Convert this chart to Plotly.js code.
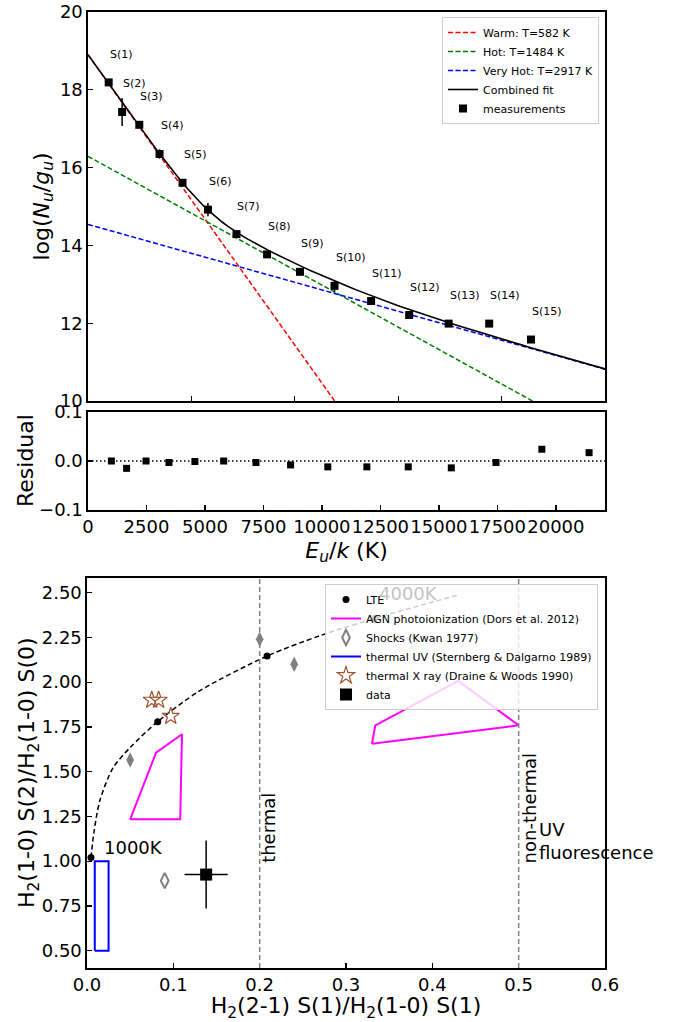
<!DOCTYPE html>
<html>
<head>
<meta charset="utf-8">
<script src="https://cdn.plot.ly/plotly-3.0.1.min.js"></script>
<style>html,body{margin:0;padding:0;background:#fff;}#chart{width:680px;height:1022px;}</style>
</head>
<body>
<div id="chart"></div>
<script>
// ---------- Panel 1: excitation diagram ----------
const lineLabels = ['S(1)','S(2)','S(3)','S(4)','S(5)','S(6)','S(7)','S(8)','S(9)','S(10)','S(11)','S(12)','S(13)','S(14)','S(15)'];
const E_u = [1000, 1650, 2480, 3460, 4570, 5800, 7180, 8660, 10250, 11920, 13690, 15530, 17440, 19400, 21420];
const logNg = [18.19, 17.43, 17.10, 16.35, 15.61, 14.92, 14.29, 13.77, 13.32, 12.96, 12.57, 12.21, 11.99, 11.99, 11.58];
const logNgErr = [0.04, 0.36, 0.04, 0.12, 0.04, 0.17, 0.04, 0.04, 0.04, 0.15, 0.04, 0.04, 0.04, 0.04, 0.04];
const fitNames = ['Warm: T=582 K', 'Hot: T=1484 K', 'Very Hot: T=2917 K'];
const fitTemps = [582, 1484, 2917];
const fitIntercepts = [18.9, 16.29, 14.54];
const fitERange = [0, 25000];
// ---------- Panel 2: residuals ----------
const residual = [0.0, -0.015, 0.0, -0.003, -0.001, 0.0, -0.003, -0.008, -0.012, -0.012, -0.012, -0.014, -0.003, 0.024, 0.017];
// ---------- Panel 3: line-ratio diagram ----------
const lteCurveX = [0.0046, 0.008, 0.015, 0.03, 0.05, 0.082, 0.13, 0.2086, 0.27, 0.3337, 0.43];
const lteCurveY = [1.02, 1.16, 1.34, 1.52, 1.635, 1.78, 1.95, 2.146, 2.26, 2.357, 2.487];
const lteX = [0.0046, 0.0819, 0.2086, 0.3337];
const lteY = [1.02, 1.779, 2.146, 2.357];
const agnX = [0.05, 0.08, 0.11, 0.108, 0.05, null, 0.33, 0.334, 0.43, 0.5, 0.33];
const agnY = [1.234, 1.606, 1.709, 1.234, 1.234, null, 1.656, 1.759, 2.007, 1.759, 1.656];
const shockFilledX = [0.05, 0.2, 0.24];
const shockFilledY = [1.565, 2.24, 2.10];
const shockOpenX = [0.09];
const shockOpenY = [0.891];
const uvX = [0.009, 0.025, 0.025, 0.009, 0.009];
const uvY = [0.5, 0.5, 1.0, 1.0, 0.5];
const xrayX = [0.075, 0.083, 0.097];
const xrayY = [1.90, 1.90, 1.81];
const dataX = [0.138];
const dataY = [0.925];
const dataXErr = [0.025];
const dataYErr = [0.19];
const regimeX = [0.2, 0.5];

const FONT = 'DejaVu Sans';
const LN10 = Math.log(10);
function comp(i, E) { return fitIntercepts[i] - E / (fitTemps[i] * LN10); }

const traces = [];
const fitColors = ['#ff0000', '#008000', '#0000ff'];
for (let i = 0; i < fitTemps.length; i++) {
  traces.push({x: fitERange, y: fitERange.map(E => comp(i, E)), xaxis: 'x', yaxis: 'y', mode: 'lines',
    name: fitNames[i], line: {color: fitColors[i], width: 1.5, dash: '5px,2.5px'}, legend: 'legend'});
}
const combE = [], combY = [];
for (let E = fitERange[0]; E <= fitERange[1]; E += 250) {
  let s = 0;
  for (let i = 0; i < fitTemps.length; i++) s += Math.pow(10, comp(i, E));
  combE.push(E); combY.push(Math.log10(s));
}
traces.push({x: combE, y: combY, xaxis: 'x', yaxis: 'y', mode: 'lines', name: 'Combined fit',
  line: {color: '#000', width: 1.6}, legend: 'legend'});
traces.push({x: E_u, y: logNg, xaxis: 'x', yaxis: 'y', mode: 'markers', name: 'measurements',
  marker: {symbol: 'square', size: 8, color: '#000'},
  error_y: {type: 'data', array: logNgErr, visible: true, color: '#000', thickness: 1.5, width: 0}, legend: 'legend'});

// residuals
traces.push({x: E_u, y: residual, xaxis: 'x2', yaxis: 'y2', mode: 'markers', showlegend: false,
  marker: {symbol: 'square', size: 7, color: '#000'}});

// panel 3
traces.push({x: lteCurveX, y: lteCurveY, xaxis: 'x3', yaxis: 'y3', mode: 'lines', showlegend: false,
  line: {color: '#000', width: 1.5, dash: '5px,3px', shape: 'spline', smoothing: 0.8}});
traces.push({x: lteX, y: lteY, xaxis: 'x3', yaxis: 'y3', mode: 'markers', name: 'LTE',
  marker: {symbol: 'circle', size: 7, color: '#000'}, legend: 'legend2'});
traces.push({x: agnX, y: agnY, xaxis: 'x3', yaxis: 'y3', mode: 'lines', name: 'AGN photoionization (Dors et al. 2012)',
  connectgaps: false, line: {color: '#ff00ff', width: 2}, legend: 'legend2'});
traces.push({x: shockFilledX, y: shockFilledY, xaxis: 'x3', yaxis: 'y3', mode: 'markers', showlegend: false,
  marker: {symbol: 'diamond-tall', size: 11, color: '#808080'}});
traces.push({x: shockOpenX, y: shockOpenY, xaxis: 'x3', yaxis: 'y3', mode: 'markers', name: 'Shocks (Kwan 1977)',
  marker: {symbol: 'diamond-tall-open', size: 11, color: '#808080', line: {width: 2}}, legend: 'legend2'});
traces.push({x: uvX, y: uvY, xaxis: 'x3', yaxis: 'y3', mode: 'lines', name: 'thermal UV (Sternberg & Dalgarno 1989)',
  line: {color: '#0000ff', width: 2}, legend: 'legend2'});
traces.push({x: xrayX, y: xrayY, xaxis: 'x3', yaxis: 'y3', mode: 'markers', name: 'thermal X ray (Draine & Woods 1990)',
  marker: {symbol: 'star-open', size: 13, color: '#a0522d', line: {width: 1.2}}, legend: 'legend2'});
traces.push({x: dataX, y: dataY, xaxis: 'x3', yaxis: 'y3', mode: 'markers', name: 'data',
  marker: {symbol: 'square', size: 12, color: '#000'},
  error_x: {type: 'data', array: dataXErr, visible: true, color: '#000', thickness: 1.5, width: 0},
  error_y: {type: 'data', array: dataYErr, visible: true, color: '#000', thickness: 1.5, width: 0}, legend: 'legend2'});

const W = 680, H = 1022;
function dx(a, b) { return [a / W, b / W]; }
function dy(top, bottom) { return [(H - bottom) / H, (H - top) / H]; }

const axBase = {showline: true, mirror: true, linecolor: '#000', linewidth: 1.6, ticks: 'inside', ticklen: 5,
  tickwidth: 1.3, tickcolor: '#000', showgrid: false, zeroline: false, tickfont: {family: FONT, size: 18, color: '#000'}};

const annotations = lineLabels.map((t, i) => ({x: E_u[i], y: logNg[i], xref: 'x', yref: 'y', text: t, showarrow: false,
  xanchor: 'left', yanchor: 'middle', yshift: 28, xshift: -1, font: {family: FONT, size: 11, color: '#000'}}));
annotations.push({x: 0.017, y: 1.074, xref: 'x3', yref: 'y3', text: '1000K', showarrow: false, xanchor: 'left', yanchor: 'middle',
  font: {family: FONT, size: 18, color: '#000'}});
annotations.push({x: 0.3356, y: 2.498, xref: 'x3', yref: 'y3', text: '4000K', showarrow: false, xanchor: 'left', yanchor: 'middle',
  font: {family: FONT, size: 18, color: '#c4c4c4'}});
annotations.push({x: 0.2094, y: 0.978, xref: 'x3', yref: 'y3', text: 'thermal', showarrow: false, textangle: -90,
  xanchor: 'center', yanchor: 'bottom', font: {family: FONT, size: 18, color: '#000'}});
annotations.push({x: 0.5129, y: 0.978, xref: 'x3', yref: 'y3', text: 'non-thermal', showarrow: false, textangle: -90,
  xanchor: 'center', yanchor: 'bottom', font: {family: FONT, size: 18, color: '#000'}});
annotations.push({x: 0.521, y: 0.98, xref: 'x3', yref: 'y3', text: 'UV<br>fluorescence', showarrow: false, align: 'left',
  xanchor: 'left', yanchor: 'bottom', font: {family: FONT, size: 18, color: '#000'}});
// y-axis titles placed as rotated annotations for exact positioning
const yTitles = [
  {text: 'log(<i>N</i><sub><i>u</i></sub>/<i>g</i><sub><i>u</i></sub>)', px: 43, top: 12, bottom: 401},
  {text: 'Residual', px: 26, top: 412, bottom: 510},
  {text: 'H<sub>2</sub>(1-0) S(2)/H<sub>2</sub>(1-0) S(0)', px: 28, top: 578, bottom: 968}
];
yTitles.forEach(t => annotations.push({x: t.px / W, y: (H - (t.top + t.bottom) / 2) / H, xref: 'paper', yref: 'paper',
  text: t.text, showarrow: false, textangle: -90, xanchor: 'center', yanchor: 'middle',
  font: {family: FONT, size: 22, color: '#000'}}));

const shapes = regimeX.map(v => ({type: 'line', xref: 'x3', yref: 'y3 domain', x0: v, x1: v, y0: 0, y1: 1,
  line: {color: '#808080', width: 1.5, dash: '5px,3px'}}));
shapes.push({type: 'line', xref: 'x2 domain', yref: 'y2', x0: 0, x1: 1, y0: 0, y1: 0,
  line: {color: '#000', width: 1.5, dash: '1.5px,2.5px'}});

const legendBase = {bgcolor: 'rgba(255,255,255,0.8)', bordercolor: '#cccccc', borderwidth: 1,
  font: {family: FONT, size: 11, color: '#000'}, tracegroupgap: 0, itemwidth: 30};

const layout = {
  width: W, height: H, margin: {l: 0, r: 0, t: 0, b: 0}, paper_bgcolor: '#fff', plot_bgcolor: '#fff',
  font: {family: FONT, color: '#000'},
  xaxis: Object.assign({}, axBase, {domain: dx(88, 605), anchor: 'y', range: [0, 25000], tickvals: [0, 5000, 10000, 15000, 20000, 25000], showticklabels: false}),
  yaxis: Object.assign({}, axBase, {domain: dy(12, 401), anchor: 'x', range: [10, 20], tickvals: [10, 12, 14, 16, 18, 20]}),
  xaxis2: Object.assign({}, axBase, {domain: dx(88, 605), anchor: 'y2', range: [0, 22100], tick0: 0, dtick: 2500, tickangle: 0,
    tickformat: 'd',
    title: {text: '<i>E</i><sub><i>u</i></sub>/<i>k</i> (K)', font: {family: FONT, size: 22, color: '#000'}, standoff: 6}}),
  yaxis2: Object.assign({}, axBase, {domain: dy(412, 510), anchor: 'x2', range: [-0.1, 0.1], tickvals: [-0.1, 0, 0.1],
    ticktext: ['\u22120.1', '0.0', '0.1']}),
  xaxis3: Object.assign({}, axBase, {domain: dx(87, 605), anchor: 'y3', range: [0, 0.6], tickvals: [0, 0.1, 0.2, 0.3, 0.4, 0.5, 0.6],
    tickformat: '.1f', tickangle: 0,
    title: {text: 'H<sub>2</sub>(2-1) S(1)/H<sub>2</sub>(1-0) S(1)', font: {family: FONT, size: 22, color: '#000'}, standoff: 6}}),
  yaxis3: Object.assign({}, axBase, {domain: dy(578, 968), anchor: 'x3', range: [0.403, 2.582],
    tickvals: [0.5, 0.75, 1.0, 1.25, 1.5, 1.75, 2.0, 2.25, 2.5], tickformat: '.2f'}),
  legend: Object.assign({}, legendBase, {x: 599 / W, xanchor: 'right', y: (H - 17) / H, yanchor: 'top'}),
  legend2: Object.assign({}, legendBase, {x: 598 / W, xanchor: 'right', y: (H - 584) / H, yanchor: 'top'}),
  annotations: annotations,
  shapes: shapes,
  showlegend: true
};

Plotly.newPlot('chart', traces, layout, {staticPlot: true, displayModeBar: false});
</script>
</body>
</html>
